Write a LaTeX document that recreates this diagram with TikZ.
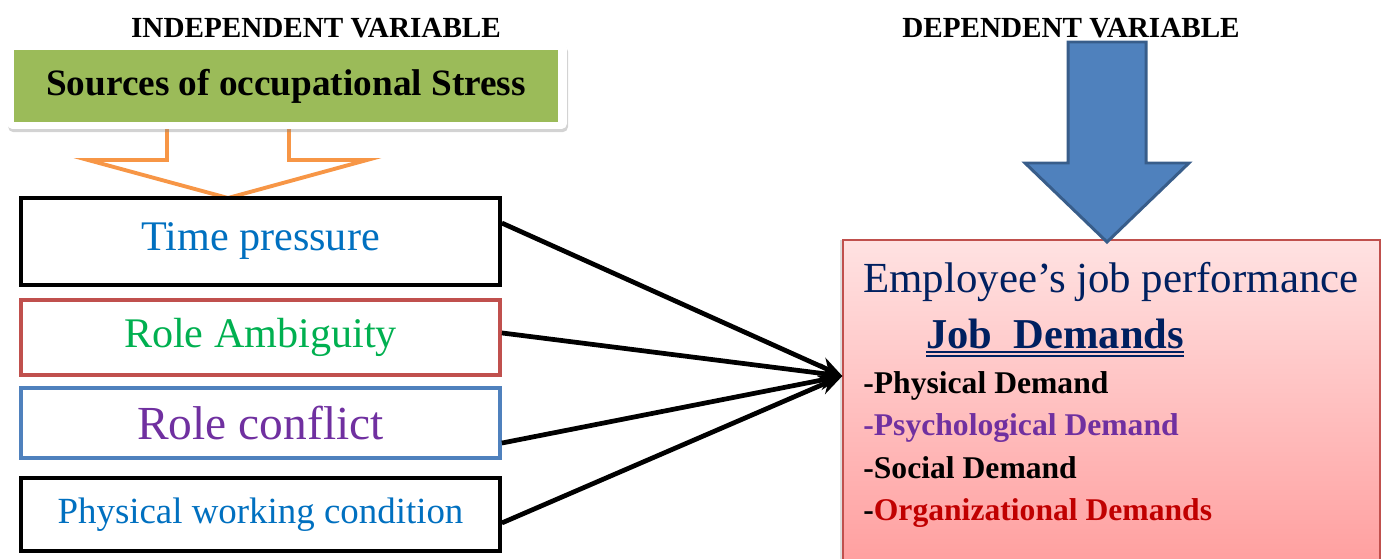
\documentclass[tikz,border=0pt]{standalone}
\usepackage{fontspec}
\setmainfont{Liberation Serif}
\usepackage{xcolor}
\usetikzlibrary{arrows.meta, positioning, shadows}

\definecolor{stressgreen}{HTML}{9BBB59}
\definecolor{hollowor}{HTML}{F79646}
\definecolor{solidblue}{HTML}{4F81BD}
\definecolor{solidedge}{HTML}{385D8A}
\definecolor{edgered}{HTML}{C0504D}
\definecolor{edgeblue}{HTML}{4F81BD}
\definecolor{txtblue}{HTML}{0070C0}
\definecolor{txtgreen}{HTML}{00B050}
\definecolor{txtpurple}{HTML}{7030A0}
\definecolor{txtnavy}{HTML}{002060}
\definecolor{txtred}{HTML}{C00000}
\definecolor{pinktop}{HTML}{FFE2E2}
\definecolor{pinkbot}{HTML}{FF9E9E}

\begin{document}
\begin{tikzpicture}[x=0.02cm, y=-0.02cm,
  factor/.style={rectangle, draw, line width=2.2pt, fill=white,
                 minimum width=9.58cm, inner sep=0pt},
  conn/.style={-{Stealth[length=13pt, width=11pt]}, line width=2.7pt, black},
  head/.style={font=\bfseries\fontsize{16.6}{19}\selectfont, anchor=base, inner sep=0pt},
  item/.style={font=\bfseries\fontsize{18}{21}\selectfont, anchor=base west, inner sep=0pt}
]
  \clip (0,0) rectangle (1383,558);

  % hollow arrow under the green title
  \draw[hollowor, line width=2.2pt, fill=white, line join=miter]
    (167,118) -- (289,118) -- (289,160) -- (367,160) -- (228,198)
    -- (88,160) -- (167,160) -- cycle;

  \node[rectangle, rounded corners=3pt, fill=white, minimum width=11.2cm,
        minimum height=1.72cm,
        drop shadow={opacity=0.35, shadow xshift=0.6pt, shadow yshift=-1.8pt}]
    (frame) at (287,86) {};
  \node[rectangle, fill=stressgreen, minimum width=10.88cm, minimum height=1.44cm,
        font=\bfseries\fontsize{21.2}{25}\selectfont] (sources) at (286,86)
    {Sources of occupational Stress};

  % the four sources
  \node[factor, minimum height=1.74cm, text=txtblue,
        font=\fontsize{24}{28}\selectfont] (tp) at (260.5,241.5) {Time pressure};
  \node[factor, draw=edgered, minimum height=1.5cm, text=txtgreen,
        font=\fontsize{24}{28}\selectfont] (ra) at (260.5,337.5) {Role Ambiguity};
  \node[factor, draw=edgeblue, minimum height=1.4cm, text=txtpurple,
        font=\fontsize{27}{31}\selectfont] (rc) at (260.5,423) {Role conflict};
  \node[factor, minimum height=1.46cm, text=txtblue,
        font=\fontsize{21}{25}\selectfont] (pw) at (260.5,514.5) {Physical working condition};

  % dependent side
  \node[rectangle, draw=edgered, line width=0.8pt, top color=pinktop,
        bottom color=pinkbot, minimum width=10.74cm, minimum height=6.6cm,
        drop shadow={opacity=0.25, shadow xshift=-2pt, shadow yshift=0pt}]
    (jobperf) at (1111.5,405) {};
  \coordinate (hub) at ([yshift=16.5pt]jobperf.west);

  \draw[conn] ([yshift=10.5pt]tp.east) -- (hub);
  \draw[conn] ([yshift=2.6pt]ra.east) -- (hub);
  \draw[conn] ([yshift=-11.4pt]rc.east) -- (hub);
  \draw[conn] ([yshift=-4.8pt]pw.east) -- (hub);

  \node[anchor=base west, inner sep=0pt, text=txtnavy,
        font=\fontsize{24.4}{28}\selectfont] (perf) at (863,292)
    {Employee’s job performance};
  \node[anchor=base west, inner sep=0pt, text=txtnavy,
        font=\bfseries\fontsize{24.2}{28}\selectfont] (jd) at (926,348)
    {Job~~Demands};
  \draw[txtnavy, line width=0.85pt]
    ([yshift=-2.3pt]jd.base west) -- ([yshift=-2.3pt]jd.base east);
  \draw[txtnavy, line width=0.85pt]
    ([yshift=-4.6pt]jd.base west) -- ([yshift=-4.6pt]jd.base east);

  \node[item] (phys) at (863,393) {-Physical Demand};
  \node[item, text=txtpurple] (psych) at (863,435) {-Psychological Demand};
  \node[item] (soc) at (863,478) {-Social Demand};
  \node[item] (org) at (863,520) {-\textcolor{txtred}{Organizational Demands}};

  % solid arrow into the dependent box
  \draw[solidedge, line width=1.7pt, fill=solidblue, line join=miter]
    (1068,42) -- (1146,42) -- (1146,163) -- (1189,163) -- (1107,242)
    -- (1025,163) -- (1068,163) -- cycle;

  \node[head] (indep) at (316,37) {INDEPENDENT VARIABLE};
  \node[head] (dep) at (1071,37) {DEPENDENT VARIABLE};
\end{tikzpicture}
\end{document}
